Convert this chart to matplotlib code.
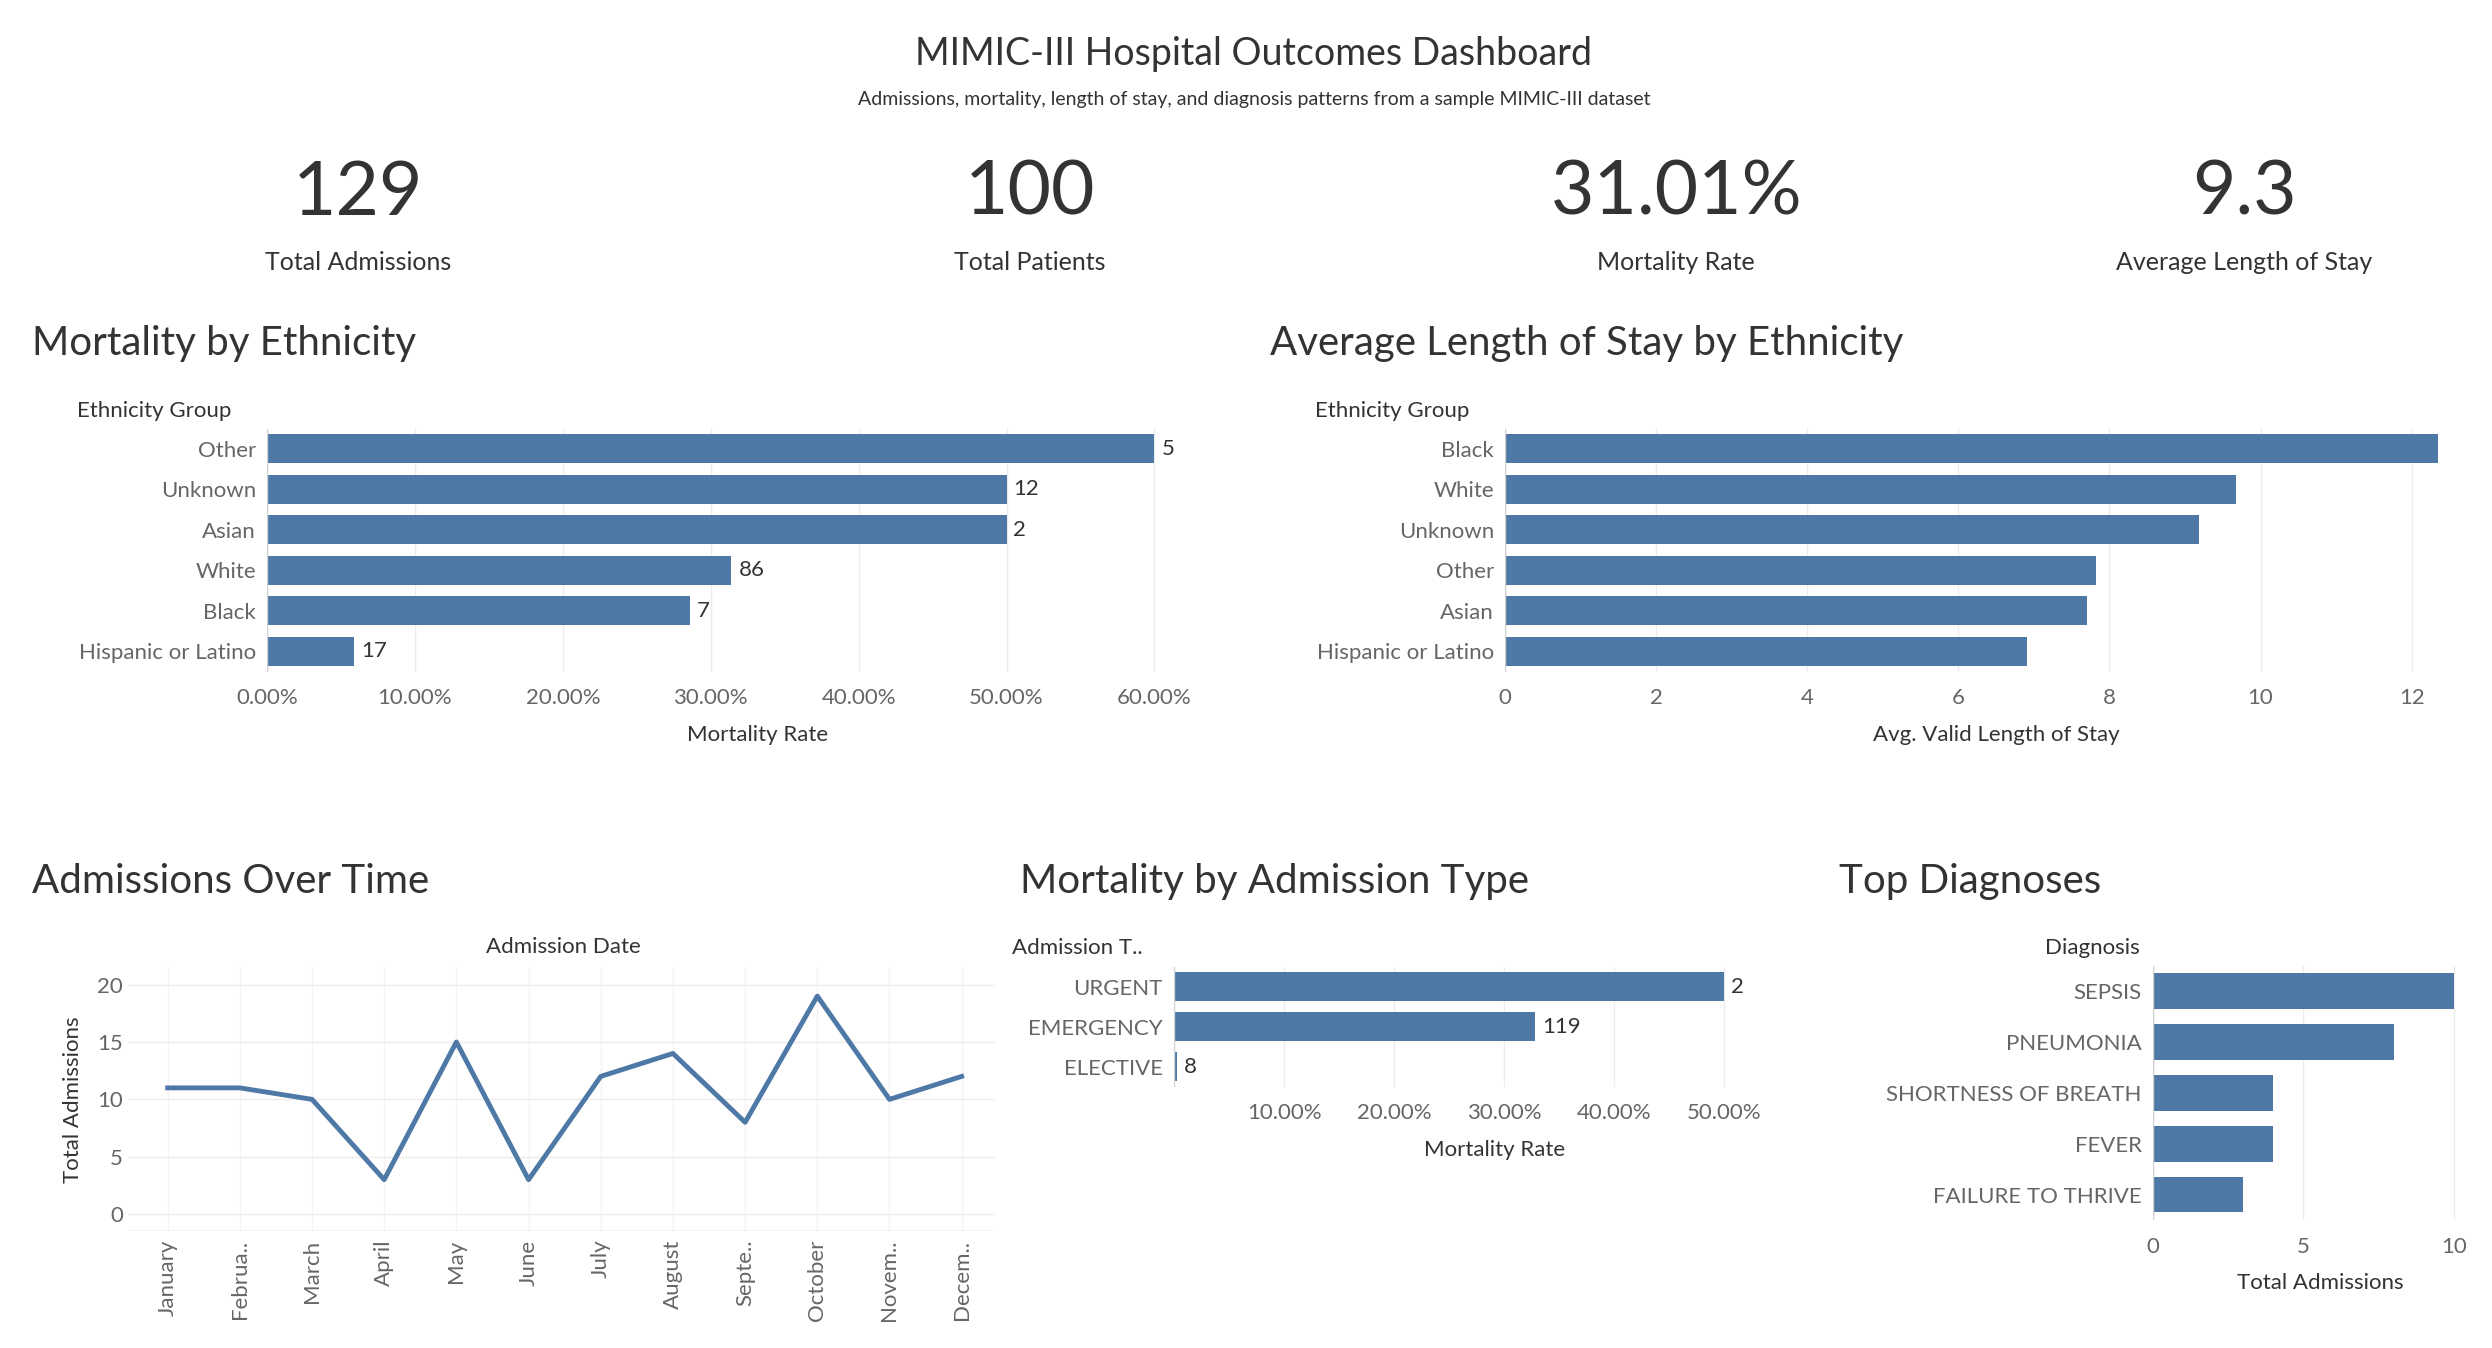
import matplotlib
matplotlib.use("Agg")
import matplotlib.pyplot as plt
from matplotlib.ticker import FuncFormatter

plt.rcParams['font.family'] = ['Lato', 'DejaVu Sans']

BLUE = '#4e79a7'; DARK = '#333333'; GREY = '#666666'; GRID = '#ececec'

kpi_values = ['129', '100', '31.01%', '9.3']
kpi_labels = ['Total Admissions', 'Total Patients', 'Mortality Rate', 'Average Length of Stay']

eth_mort_cats = ['Other', 'Unknown', 'Asian', 'White', 'Black', 'Hispanic or Latino']
eth_mort_vals = [60.0, 50.0, 50.0, 31.4, 28.6, 5.9]
eth_mort_counts = [5, 12, 2, 86, 7, 17]

los_cats = ['Black', 'White', 'Unknown', 'Other', 'Asian', 'Hispanic or Latino']
los_vals = [12.35, 9.68, 9.18, 7.82, 7.70, 6.91]

months = ['January', 'Februa..', 'March', 'April', 'May', 'June', 'July', 'August',
          'Septe..', 'October', 'Novem..', 'Decem..']
admissions = [11, 11, 10, 3, 15, 3, 12, 14, 8, 19, 10, 12]

adm_types = ['URGENT', 'EMERGENCY', 'ELECTIVE']
adm_mort = [50.0, 32.8, 0.3]
adm_counts = [2, 119, 8]

diagnoses = ['SEPSIS', 'PNEUMONIA', 'SHORTNESS OF BREATH', 'FEVER', 'FAILURE TO THRIVE']
diag_counts = [10, 8, 4, 4, 3]

W, H = 1558, 843
fig = plt.figure(figsize=(24.92, 13.48), dpi=100)

def fx(x): return x / W
def fy(y): return 1 - y / H
def ax_at(x0, y0, x1, y1):
    return fig.add_axes([fx(x0), fy(y1), fx(x1) - fx(x0), fy(y0) - fy(y1)])
def t(x, y, s, **kw):
    fig.text(fx(x), fy(y), s, **kw)

t(784, 34, 'MIMIC-III Hospital Outcomes Dashboard', ha='center', va='center', fontsize=27, color=DARK)
t(784, 62, 'Admissions, mortality, length of stay, and diagnosis patterns from a sample MIMIC-III dataset',
  ha='center', va='center', fontsize=14, color=DARK)
for xc, v, l in zip([224, 644, 1048, 1403], kpi_values, kpi_labels):
    t(xc, 121, v, ha='center', va='center', fontsize=54, color=DARK)
    t(xc, 164, l, ha='center', va='center', fontsize=18, color=DARK)

for x, y, s in [(20, 215, 'Mortality by Ethnicity'), (794, 215, 'Average Length of Stay by Ethnicity'),
                (20, 551, 'Admissions Over Time'), (638, 551, 'Mortality by Admission Type'),
                (1150, 551, 'Top Diagnoses')]:
    t(x, y, s, ha='left', va='center', fontsize=29, color=DARK)

def style(ax):
    for s in ax.spines.values():
        s.set_visible(False)
    ax.tick_params(length=0, colors=GREY, labelsize=16)
    ax.set_axisbelow(True)

def hbar(ax, cats, vals, xmax, height=0.72):
    n = len(cats)
    ys = list(range(n))
    ax.barh(ys, vals, height=height, color=BLUE)
    ax.set_ylim(n - 0.5, -0.5)
    ax.set_xlim(0, xmax)
    ax.set_yticks(ys)
    ax.set_yticklabels(cats)
    style(ax)
    ax.tick_params(axis='y', pad=8)
    ax.tick_params(axis='x', pad=12)
    ax.grid(axis='x', color=GRID, lw=1)
    ax.axvline(0, color='#d0d0d0', lw=1)
    return ys

# Mortality by ethnicity
ax1 = ax_at(167, 268, 780, 420)
ys = hbar(ax1, eth_mort_cats, eth_mort_vals, 66.3)
for y, v, c in zip(ys, eth_mort_vals, eth_mort_counts):
    ax1.annotate(str(c), (v, y), xytext=(5, 0), textcoords='offset points', va='center', fontsize=16, color=DARK)
ax1.set_xticks([0, 10, 20, 30, 40, 50, 60])
ax1.xaxis.set_major_formatter(FuncFormatter(lambda v, p: f'{v:.2f}%'))
ax1.set_xlabel('Mortality Rate', fontsize=16, color=DARK, labelpad=12)
t(48, 257, 'Ethnicity Group', ha='left', va='center', fontsize=16, color=DARK)

# LOS
ax2 = ax_at(941, 268, 1555, 420)
hbar(ax2, los_cats, los_vals, 13.0)
ax2.set_xticks([0, 2, 4, 6, 8, 10, 12])
ax2.set_xlabel('Avg. Valid Length of Stay', fontsize=16, color=DARK, labelpad=12)
t(822, 257, 'Ethnicity Group', ha='left', va='center', fontsize=16, color=DARK)

# Admissions over time
ax3 = ax_at(80, 605, 622, 770)
ax3.plot(range(12), admissions, color=BLUE, lw=3.5)
ax3.set_xlim(-0.55, 11.46)
ax3.set_ylim(-1.5, 21.5)
ax3.set_yticks([0, 5, 10, 15, 20])
ax3.set_xticks(range(12))
ax3.set_xticklabels(months, rotation=90, va='top')
style(ax3)
ax3.grid(axis='y', color=GRID, lw=1)
ax3.grid(axis='x', color='#f4f4f4', lw=1)
ax3.axhline(-1.5, color='#d0d0d0', lw=1)
ax3.set_ylabel('Total Admissions', fontsize=16, color=DARK, labelpad=10)
ax3.tick_params(axis='x', pad=6)
t(352, 592, 'Admission Date', ha='center', va='center', fontsize=16, color=DARK)

# Admission type
ax4 = ax_at(734, 604.5, 1135, 679.5)
ys = hbar(ax4, adm_types, adm_mort, 58.3)
for y, v, c in zip(ys, adm_mort, adm_counts):
    ax4.annotate(str(c), (v, y), xytext=(5, 0), textcoords='offset points', va='center', fontsize=16, color=DARK)
ax4.set_xticks([10, 20, 30, 40, 50])
ax4.xaxis.set_major_formatter(FuncFormatter(lambda v, p: f'{v:.2f}%'))
ax4.set_xlabel('Mortality Rate', fontsize=16, color=DARK, labelpad=12)
t(633, 593, 'Admission T..', ha='left', va='center', fontsize=16, color=DARK)

# Diagnoses
ax5 = ax_at(1346, 604, 1555, 763)
hbar(ax5, diagnoses, diag_counts, 11.1, height=0.7)
ax5.set_xticks([0, 5, 10])
ax5.set_xlabel('Total Admissions', fontsize=16, color=DARK, labelpad=12)
t(1338, 593, 'Diagnosis', ha='right', va='center', fontsize=16, color=DARK)

fig.savefig('out.png', dpi=100, facecolor='white')
